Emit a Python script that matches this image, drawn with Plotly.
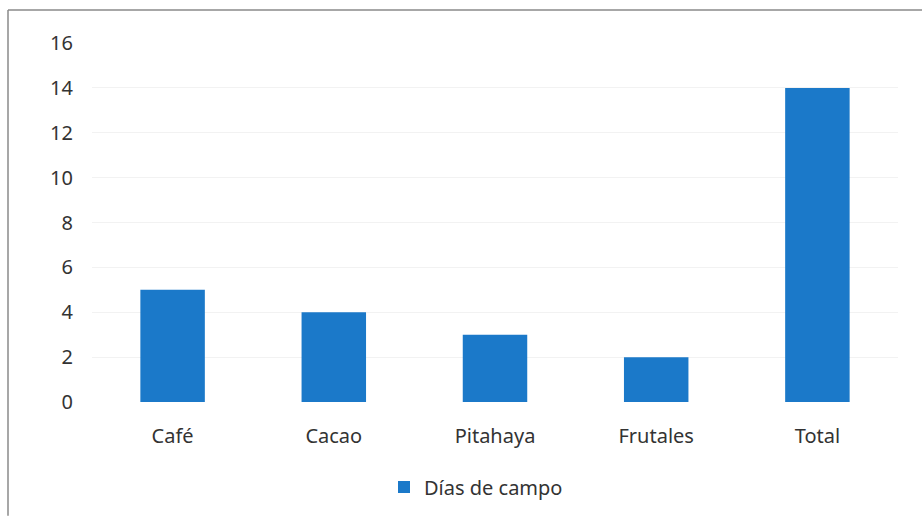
import plotly.graph_objects as go

categories = ["Café", "Cacao", "Pitahaya", "Frutales", "Total"]
dias_de_campo = [5, 4, 3, 2, 14]
y_ticks = [0, 2, 4, 6, 8, 10, 12, 14, 16]
series_name = "Días de campo"

BAR = "#1b79c9"
FONT = "Noto Sans, Open Sans, sans-serif"

fig = go.Figure()
fig.add_trace(go.Bar(x=categories, y=dias_de_campo, name=series_name,
                     marker=dict(color=BAR, line=dict(width=0)), width=0.4))

L, R, T, B = 92, 24, 43, 114
W, H = 922, 517
pw, ph = W - L - R, H - T - B

def px(x):
    return (x - L) / pw

def py(y):
    return (H - B - y) / ph

fig.update_layout(
    width=W, height=H,
    margin=dict(l=L, r=R, t=T, b=B),
    paper_bgcolor="white", plot_bgcolor="white",
    font=dict(family=FONT, size=20, color="#333333"),
    showlegend=True,
    legend=dict(orientation="h", x=px(384), xanchor="left", y=py(487), yanchor="middle",
                font=dict(size=20, color="#333333"), itemwidth=30),
    xaxis=dict(showgrid=False, showline=False, zeroline=False, ticks="",
               ticklabelstandoff=20, tickfont=dict(size=20)),
    yaxis=dict(range=[0, 16], tickvals=y_ticks, showgrid=True, gridcolor="#f2f2f2",
               zeroline=False, showline=False, ticks="", ticklabelstandoff=18,
               tickfont=dict(size=20)),
    shapes=[
        dict(type="line", xref="paper", yref="paper", x0=px(8), x1=px(922), y0=py(10), y1=py(10),
             line=dict(color="#8a8a8a", width=1.5)),
        dict(type="line", xref="paper", yref="paper", x0=px(8), x1=px(8), y0=py(10), y1=py(517),
             line=dict(color="#8a8a8a", width=1.5)),
    ],
)

fig.write_html("out.html", config={"displayModeBar": False},
               post_script="document.body.style.margin='0';document.body.style.overflow='hidden';")
